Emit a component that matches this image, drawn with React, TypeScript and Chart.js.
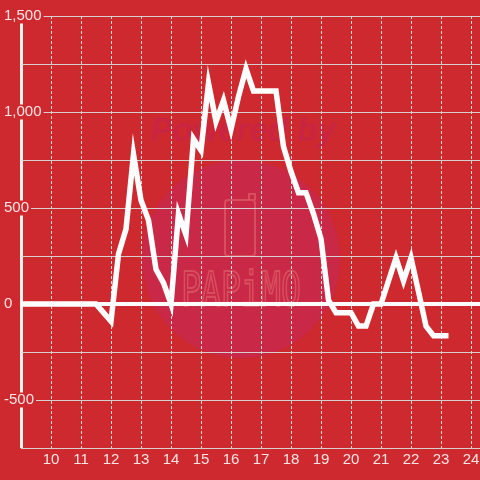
import React, { useEffect, useRef } from "react";
import { Chart, registerables } from "chart.js";

Chart.register(...registerables);

const hours = [
  9, 9.25, 9.5, 9.75, 10, 10.25, 10.5, 10.75, 11, 11.25, 11.5, 11.75,
  12, 12.25, 12.5, 12.75, 13, 13.25, 13.5, 13.75, 14, 14.25, 14.5, 14.75,
  15, 15.25, 15.5, 15.75, 16, 16.25, 16.5, 16.75, 17, 17.25, 17.5, 17.75,
  18, 18.25, 18.5, 18.75, 19, 19.25, 19.5, 19.75, 20, 20.25, 20.5, 20.75,
  21, 21.25, 21.5, 21.75, 22, 22.25, 22.5, 22.75, 23, 23.25,
];

const values = [
  0, 0, 0, 0, 0, 0, 0, 0, 0, 0, 0, -45,
  -90, 260, 390, 780, 540, 437, 180, 110, 0, 470, 360, 860,
  800, 1150, 950, 1060, 910, 1080, 1225, 1110, 1110, 1110, 1110, 820,
  690, 580, 580, 470, 340, 20, -45, -45, -45, -115, -115, 0,
  0, 120, 240, 120, 240, 65, -115, -165, -165, -165,
];

const BG = "rgb(205,41,46)";
const FONT = "'Liberation Sans', Arial, sans-serif";

const watermark = {
  id: "watermark",
  beforeDraw(chart: any) {
    const ctx = chart.ctx;
    ctx.save();
    ctx.fillStyle = BG;
    ctx.fillRect(0, 0, chart.width, chart.height);
    ctx.beginPath();
    ctx.arc(241, 259, 99, 0, Math.PI * 2);
    ctx.fillStyle = "rgb(201,40,70)";
    ctx.fill();
    ctx.font = "italic bold 33px " + FONT;
    ctx.fillStyle = "rgb(201,37,66)";
    ctx.textAlign = "center";
    ctx.textBaseline = "alphabetic";
    ctx.fillText("Powered by", 243, 141);
    ctx.strokeStyle = "rgba(225,105,110,0.6)";
    ctx.lineWidth = 2;
    ctx.beginPath();
    ctx.roundRect(225, 200, 30, 56, 3);
    ctx.stroke();
    ctx.beginPath();
    ctx.moveTo(249, 200);
    ctx.lineTo(249, 194);
    ctx.lineTo(255, 194);
    ctx.lineTo(255, 200);
    ctx.stroke();
    ctx.save();
    ctx.translate(241, 306);
    ctx.scale(0.92, 1.35);
    ctx.font = "36px 'DejaVu Sans Mono', monospace";
    ctx.lineWidth = 1.6;
    ctx.strokeText("PAPiMO", 0, 0);
    ctx.restore();
    ctx.restore();
  },
};

export default function App() {
  const ref = useRef<HTMLCanvasElement | null>(null);

  useEffect(() => {
    const canvas = ref.current;
    if (!canvas) return;
    const isAxis = (c: any) => c.tick && c.tick.value === 9;
    const chart = new Chart(canvas, {
      type: "line",
      data: {
        datasets: [
          {
            data: hours.map((h, i) => ({ x: h, y: values[i] })),
            borderColor: "#ffffff",
            borderWidth: 5.5,
            pointRadius: 0,
            tension: 0,
            fill: false,
          },
        ],
      },
      options: {
        responsive: false,
        animation: false,
        layout: { padding: { left: 21, top: 16, right: 0, bottom: 11 } },
        plugins: {
          legend: { display: false },
          tooltip: { enabled: false },
        },
        scales: {
          x: {
            type: "linear",
            min: 9,
            max: 24.3,
            border: {
              display: false,
              dash: (c: any) => (isAxis(c) ? [] : [3, 2]),
            },
            grid: {
              color: (c: any) => (isAxis(c) ? "#f2f2f2" : "rgba(225,225,225,0.95)"),
              lineWidth: (c: any) => (isAxis(c) ? 3 : 1),
              drawTicks: true,
              tickLength: 3,
              tickColor: "rgba(0,0,0,0)",
            },
            ticks: {
              stepSize: 1,
              includeBounds: false,
              autoSkip: false,
              maxRotation: 0,
              padding: 0,
              color: "rgba(255,255,255,0.88)",
              font: { family: FONT, size: 15 },
              callback: (v: any) => (v === 9 ? "" : String(v)),
            },
          },
          y: {
            min: -750,
            max: 1500,
            border: { display: false },
            grid: {
              drawTicks: false,
              color: (c: any) =>
                c.tick && c.tick.value === 0 ? "#ffffff" : "rgba(215,215,215,0.95)",
              lineWidth: (c: any) => (c.tick && c.tick.value === 0 ? 4 : 1),
            },
            ticks: {
              stepSize: 250,
              autoSkip: false,
              mirror: true,
              padding: -17 / 3,
              z: 1,
              color: "rgba(255,255,255,0.88)",
              font: { family: FONT, size: 15, lineHeight: 1 },
              showLabelBackdrop: (c: any) => c.tick && c.tick.value % 500 === 0,
              backdropColor: BG,
              backdropPadding: { left: 2, right: 2, top: 0, bottom: 0 },
              callback: (v: any) =>
                v % 500 === 0 ? Number(v).toLocaleString("en-US") : "",
            },
          },
        },
      },
      plugins: [watermark],
    });
    return () => chart.destroy();
  }, []);

  return (
    <div style={{ position: "absolute", left: 0, top: 0, width: 480, height: 480 }}>
      <canvas ref={ref} width={480} height={480} style={{ display: "block" }} />
    </div>
  );
}
